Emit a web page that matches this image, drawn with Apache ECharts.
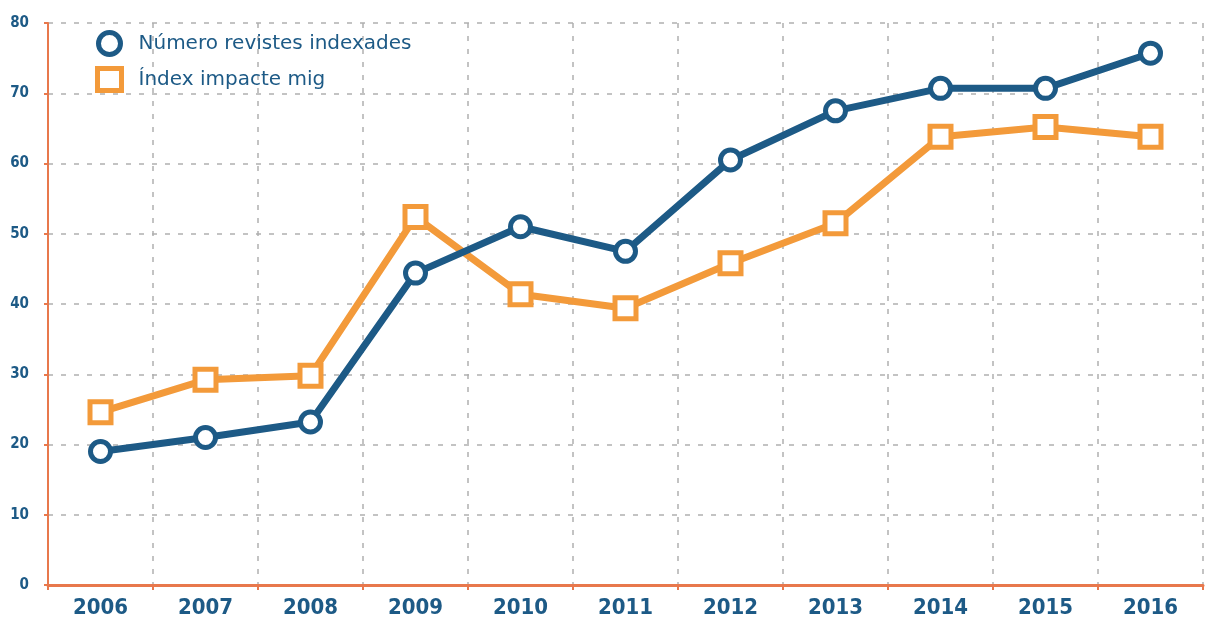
<!DOCTYPE html>
<html><head><meta charset="utf-8">
<script src="https://cdn.jsdelivr.net/npm/echarts@6/dist/echarts.min.js"></script>
<style>html,body{margin:0;padding:0;background:#fff}#c{width:1206px;height:623px}</style>
</head><body><div id="c"></div>
<script>
const years = ['2006','2007','2008','2009','2010','2011','2012','2013','2014','2015','2016'];
const revistes = [19, 21, 23.2, 44.4, 51, 47.5, 60.5, 67.5, 70.7, 70.7, 75.7];
const impacte = [24.6, 29.2, 29.8, 52.4, 41.4, 39.4, 45.8, 51.5, 63.8, 65.2, 63.8];
const yTicks = [0, 10, 20, 30, 40, 50, 60, 70, 80];
const blue = '#1d5a86', orange = '#f39a3a', axisCol = '#e8784c';
const chart = echarts.init(document.getElementById('c'));
chart.setOption({
  animation: false,
  backgroundColor: '#fff',
  grid: { left: 48, right: 3, top: 23, bottom: 38 },
  legend: {
    orient: 'vertical', left: 90, top: 25, itemGap: 9, itemWidth: 24, itemHeight: 22,
    textStyle: { fontFamily: 'DejaVu Sans', fontSize: 20, color: blue, padding: [0,0,0,12] },
    data: [
      { name: 'Número revistes indexades', icon: 'circle', itemStyle: { color: '#fff', borderColor: blue, borderWidth: 5 } },
      { name: 'Índex impacte mig', icon: 'rect', itemStyle: { color: '#fff', borderColor: orange, borderWidth: 5 } }
    ]
  },
  xAxis: {
    type: 'category', data: years, boundaryGap: true,
    axisLine: { lineStyle: { color: axisCol, width: 3 } },
    axisTick: { show: true, length: 5, lineStyle: { color: axisCol, width: 2 } },
    axisLabel: { margin: 12, fontFamily: 'DejaVu Sans Condensed', fontWeight: 'bold', fontSize: 22, color: blue },
    splitLine: { show: true, lineStyle: { color: '#b0b0b0', type: [5, 8], width: 1.5 } }
  },
  yAxis: {
    type: 'value', min: 0, max: 80, interval: 10,
    axisLine: { show: true, lineStyle: { color: axisCol, width: 2 } },
    axisTick: { show: true, length: 4, lineStyle: { color: axisCol, width: 2 } },
    axisLabel: { margin: 19, fontFamily: 'DejaVu Sans Condensed', fontWeight: 'bold', fontSize: 15, color: blue,
      formatter: v => yTicks.includes(v) ? String(v) : '' },
    splitLine: { show: true, lineStyle: { color: '#b0b0b0', type: [5, 8], width: 1.5 } }
  },
  series: [
    { name: 'Número revistes indexades', type: 'line', data: revistes, symbol: 'circle', symbolSize: 20,
      lineStyle: { color: blue, width: 7 }, itemStyle: { color: '#fff', borderColor: blue, borderWidth: 5 }, z: 3 },
    { name: 'Índex impacte mig', type: 'line', data: impacte, symbol: 'rect', symbolSize: 21,
      lineStyle: { color: orange, width: 7 }, itemStyle: { color: '#fff', borderColor: orange, borderWidth: 5 }, z: 2 }
  ]
});
</script></body></html>
